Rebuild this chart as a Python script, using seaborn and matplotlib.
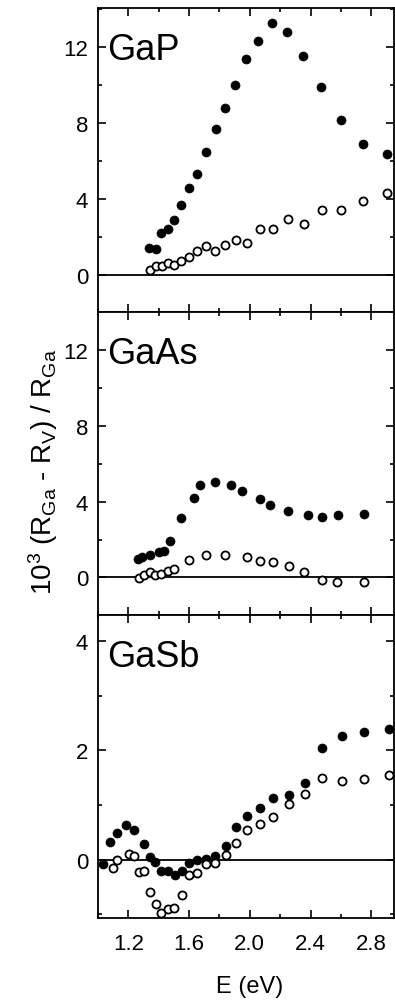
import matplotlib
matplotlib.use("Agg")
import matplotlib.pyplot as plt
import matplotlib.ticker as ticker
import pandas as pd
import seaborn as sns

# GaP
gap_e_filled = [1.338, 1.382, 1.412, 1.463, 1.502, 1.546, 1.600, 1.653, 1.710, 1.780, 1.835,
                1.902, 1.977, 2.056, 2.147, 2.242, 2.353, 2.469, 2.600, 2.749, 2.907]
gap_filled = [1.40, 1.33, 2.19, 2.42, 2.86, 3.65, 4.58, 5.32, 6.46, 7.65, 8.79,
              9.98, 11.35, 12.28, 13.25, 12.77, 11.49, 9.89, 8.12, 6.88, 6.35]
gap_e_open = [1.342, 1.379, 1.419, 1.458, 1.502, 1.550, 1.600, 1.655, 1.710, 1.773, 1.837,
              1.907, 1.981, 2.064, 2.152, 2.250, 2.355, 2.474, 2.603, 2.749, 2.907]
gap_open = [0.23, 0.46, 0.44, 0.61, 0.53, 0.75, 0.93, 1.25, 1.51, 1.25, 1.58,
            1.84, 1.68, 2.42, 2.42, 2.91, 2.67, 3.39, 3.42, 3.88, 4.32]

# GaAs
gaas_e_filled = [1.266, 1.288, 1.345, 1.404, 1.437, 1.473, 1.547, 1.631, 1.670, 1.769,
                 1.877, 1.949, 2.066, 2.134, 2.253, 2.382, 2.475, 2.580, 2.752]
gaas_filled = [0.97, 1.08, 1.20, 1.33, 1.41, 1.94, 3.14, 4.20, 4.86, 5.04,
               4.86, 4.56, 4.12, 3.80, 3.50, 3.32, 3.20, 3.27, 3.37]
gaas_e_open = [1.273, 1.305, 1.341, 1.376, 1.415, 1.459, 1.503, 1.598, 1.710, 1.835,
               1.982, 2.066, 2.154, 2.255, 2.360, 2.475, 2.576, 2.754]
gaas_open = [-0.04, 0.11, 0.28, 0.11, 0.18, 0.35, 0.46, 0.94, 1.17, 1.20,
             1.06, 0.85, 0.81, 0.62, 0.27, -0.16, -0.25, -0.25]

# GaSb
gasb_e_filled = [1.035, 1.079, 1.127, 1.182, 1.240, 1.305, 1.343, 1.376, 1.415, 1.464,
                 1.505, 1.552, 1.602, 1.655, 1.712, 1.771, 1.840, 1.908, 1.980, 2.068,
                 2.156, 2.255, 2.365, 2.475, 2.609, 2.754, 2.914]
gasb_filled = [-0.08, 0.33, 0.48, 0.64, 0.55, 0.28, 0.04, -0.04, -0.21, -0.20,
               -0.29, -0.20, -0.07, 0.00, 0.01, 0.07, 0.24, 0.60, 0.80, 0.94,
               1.12, 1.19, 1.41, 2.05, 2.26, 2.33, 2.39]
gasb_e_open = [1.101, 1.127, 1.207, 1.240, 1.270, 1.305, 1.343, 1.382, 1.415, 1.459,
               1.503, 1.552, 1.600, 1.655, 1.712, 1.771, 1.840, 1.908, 1.980, 2.068,
               2.156, 2.255, 2.365, 2.475, 2.609, 2.754, 2.914]
gasb_open = [-0.16, 0.00, 0.10, 0.07, -0.23, -0.20, -0.59, -0.82, -0.97, -0.91,
             -0.88, -0.64, -0.29, -0.25, -0.08, -0.07, 0.09, 0.30, 0.55, 0.66,
             0.78, 1.01, 1.20, 1.50, 1.44, 1.47, 1.55]

names = ['GaP', 'GaAs', 'GaSb']
ylims = [(-1.96, 14.04), (-1.98, 14.0), (-1.07, 4.48)]
yticks_major = [[0, 4, 8, 12], [0, 4, 8, 12], [0, 2, 4]]
yticks_minor = [2, 2, 1]

sns.set_style("ticks")
plt.rcParams['font.family'] = ['Liberation Sans', 'DejaVu Sans']
plt.rcParams['mathtext.fontset'] = 'custom'
plt.rcParams['mathtext.rm'] = 'Liberation Sans'
plt.rcParams['mathtext.it'] = 'Liberation Sans'
for key in ['text.color', 'axes.labelcolor', 'xtick.color', 'ytick.color', 'axes.edgecolor']:
    plt.rcParams[key] = 'black'

panels = [
    (gap_e_filled, gap_filled, gap_e_open, gap_open),
    (gaas_e_filled, gaas_filled, gaas_e_open, gaas_open),
    (gasb_e_filled, gasb_filled, gasb_e_open, gasb_open),
]

fig = plt.figure(figsize=(3.95, 10.03), dpi=100)
H = 1003.0
W = 395.0
tops = [9, 313, 616]
bottoms = [313, 616, 919]
left, right = 98, 394

for i, (ef, yf, eo, yo) in enumerate(panels):
    ax = fig.add_axes([left / W, 1 - bottoms[i] / H, (right - left) / W, (bottoms[i] - tops[i]) / H])
    ax.axhline(0, color='black', lw=1.3, zorder=1)
    df_f = pd.DataFrame({'E': ef, 'val': yf})
    df_o = pd.DataFrame({'E': eo, 'val': yo})
    sns.scatterplot(data=df_f, x='E', y='val', ax=ax, s=42, color='black',
                    edgecolor='black', linewidth=0.5, zorder=3)
    sns.scatterplot(data=df_o, x='E', y='val', ax=ax, s=34, facecolor='white',
                    edgecolor='black', linewidth=1.3, zorder=3)
    ax.set_xlim(1.0, 2.95)
    ax.set_ylim(*ylims[i])
    ax.set_xlabel('')
    ax.set_ylabel('')
    ax.xaxis.set_major_locator(ticker.MultipleLocator(0.4))
    ax.xaxis.set_major_formatter(ticker.FormatStrFormatter('%.1f'))
    ax.xaxis.set_minor_locator(ticker.MultipleLocator(0.2))
    ax.set_yticks(yticks_major[i])
    ax.yaxis.set_minor_locator(ticker.MultipleLocator(yticks_minor[i]))
    ax.tick_params(which='both', direction='in', top=True, right=True, labelsize=16, width=1.2)
    ax.tick_params(which='major', length=6)
    ax.tick_params(axis='y', which='major', pad=7)
    ax.tick_params(axis='x', which='major', pad=11)
    ax.tick_params(which='minor', length=3)
    if i < 2:
        ax.tick_params(axis='x', labelbottom=False)
    for sp in ax.spines.values():
        sp.set_linewidth(1.3)
    ax.text(0.03, 0.92, names[i], transform=ax.transAxes, fontsize=26,
            ha='left', va='top')

fig.text(43 / W, 1 - 472 / H, r'10$^3$ (R$_{\mathrm{Ga}}$ - R$_{\mathrm{V}}$) / R$_{\mathrm{Ga}}$',
         rotation=90, ha='center', va='center', fontsize=20)
fig.text(250 / W, 1 - 987 / H, 'E (eV)', ha='center', va='center', fontsize=17)

fig.savefig('out.png', dpi=100)
